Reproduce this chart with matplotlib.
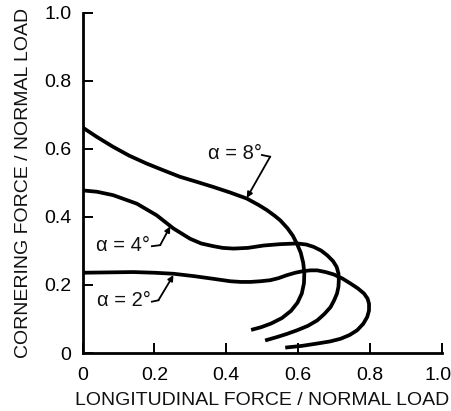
import numpy as np
import matplotlib.pyplot as plt
from matplotlib.transforms import ScaledTranslation

plt.rcParams['font.family'] = ['Liberation Sans', 'DejaVu Sans']

# friction-circle curves
x8 = [0.0, 0.04, 0.085, 0.13, 0.178, 0.225, 0.271, 0.318, 0.364, 0.41, 0.457, 0.49, 0.513, 0.535, 0.55, 0.57, 0.585, 0.597, 0.607, 0.614, 0.617, 0.616, 0.61, 0.598, 0.58, 0.555, 0.525, 0.497, 0.469]
y8 = [0.663, 0.635, 0.606, 0.58, 0.557, 0.537, 0.518, 0.503, 0.488, 0.472, 0.454, 0.435, 0.42, 0.403, 0.39, 0.367, 0.345, 0.32, 0.295, 0.265, 0.235, 0.205, 0.175, 0.148, 0.124, 0.103, 0.087, 0.076, 0.068]

x4 = [0.0, 0.04, 0.085, 0.151, 0.206, 0.253, 0.299, 0.33, 0.364, 0.39, 0.42, 0.46, 0.504, 0.55, 0.597, 0.622, 0.643, 0.664, 0.681, 0.697, 0.707, 0.712, 0.713, 0.712, 0.708, 0.7, 0.69, 0.673, 0.653, 0.627, 0.597, 0.568, 0.541, 0.508]
y4 = [0.478, 0.474, 0.464, 0.439, 0.405, 0.366, 0.336, 0.322, 0.314, 0.309, 0.307, 0.309, 0.316, 0.32, 0.322, 0.319, 0.312, 0.301, 0.287, 0.27, 0.253, 0.234, 0.214, 0.195, 0.175, 0.155, 0.135, 0.115, 0.096, 0.08, 0.067, 0.056, 0.047, 0.037]

x2 = [0.0, 0.07, 0.141, 0.2, 0.253, 0.31, 0.365, 0.411, 0.44, 0.467, 0.495, 0.522, 0.545, 0.569, 0.592, 0.615, 0.635, 0.653, 0.676, 0.699, 0.723, 0.746, 0.766, 0.783, 0.793, 0.797, 0.797, 0.792, 0.781, 0.764, 0.743, 0.718, 0.688, 0.653, 0.61, 0.564]
y2 = [0.236, 0.237, 0.238, 0.236, 0.233, 0.226, 0.218, 0.211, 0.209, 0.209, 0.211, 0.214, 0.22, 0.229, 0.236, 0.241, 0.243, 0.243, 0.238, 0.231, 0.219, 0.204, 0.19, 0.175, 0.16, 0.145, 0.125, 0.106, 0.086, 0.067, 0.053, 0.042, 0.034, 0.028, 0.021, 0.016]

labels = ['α = 8°', 'α = 4°', 'α = 2°']
label_xy = [(0.35, 0.587), (0.037, 0.317), (0.04, 0.155)]
hook_start = [(0.499, 0.582), (0.193, 0.314), (0.193, 0.151)]
hook_end = [(0.522, 0.577), (0.216, 0.317), (0.211, 0.155)]
arrow_tip = [(0.457, 0.456), (0.244, 0.372), (0.253, 0.229)]

ticks = [0, 0.2, 0.4, 0.6, 0.8, 1.0]
tick_labels = ['0', '0.2', '0.4', '0.6', '0.8', '1.0']

fig = plt.figure(figsize=(4.51, 4.11), dpi=100)
ax = fig.add_axes([0.183, 0.141, 0.797, 0.828])

for xs, ys in [(x8, y8), (x4, y4), (x2, y2)]:
    ax.plot(xs, ys, color='black', lw=2.7, solid_joinstyle='round', solid_capstyle='butt')

for lab, (tx, ty), (hx, hy), (fx, fy), (ex, ey) in zip(labels, label_xy, hook_start, hook_end, arrow_tip):
    ax.text(tx, ty, lab, fontsize=14.5, va='center', ha='left', color='#111111')
    ax.plot([hx, fx], [hy, fy], color='black', lw=1.3)
    ax.annotate('', xy=(ex, ey), xytext=(fx, fy),
                arrowprops=dict(arrowstyle='-|>', color='black', lw=1.3,
                                mutation_scale=8, shrinkA=0, shrinkB=0))

ax.set_xlim(0, 1.0)
ax.set_ylim(0, 1.0)
ax.set_xticks(ticks)
ax.set_xticklabels(tick_labels)
ax.set_yticks(ticks)
ax.set_yticklabels(tick_labels)
ax.tick_params(direction='in', length=7, width=1.4, labelsize=14, colors='black')
ax.tick_params(axis='x', pad=10)
ax.tick_params(axis='y', pad=8)
ax.spines['top'].set_visible(False)
ax.spines['right'].set_visible(False)
ax.spines['left'].set_linewidth(2)
ax.spines['bottom'].set_linewidth(2)
ax.set_xlabel('LONGITUDINAL FORCE / NORMAL LOAD', fontsize=14, labelpad=6, color='#111111')
ax.set_ylabel('CORNERING FORCE / NORMAL LOAD', fontsize=14, labelpad=9, color='#111111')

# last x label sits right at the figure edge; nudge it in a little
last = ax.get_xticklabels()[-1]
last.set_transform(last.get_transform() + ScaledTranslation(-4 / 100, 0, fig.dpi_scale_trans))

fig.savefig('out.png', dpi=100)
